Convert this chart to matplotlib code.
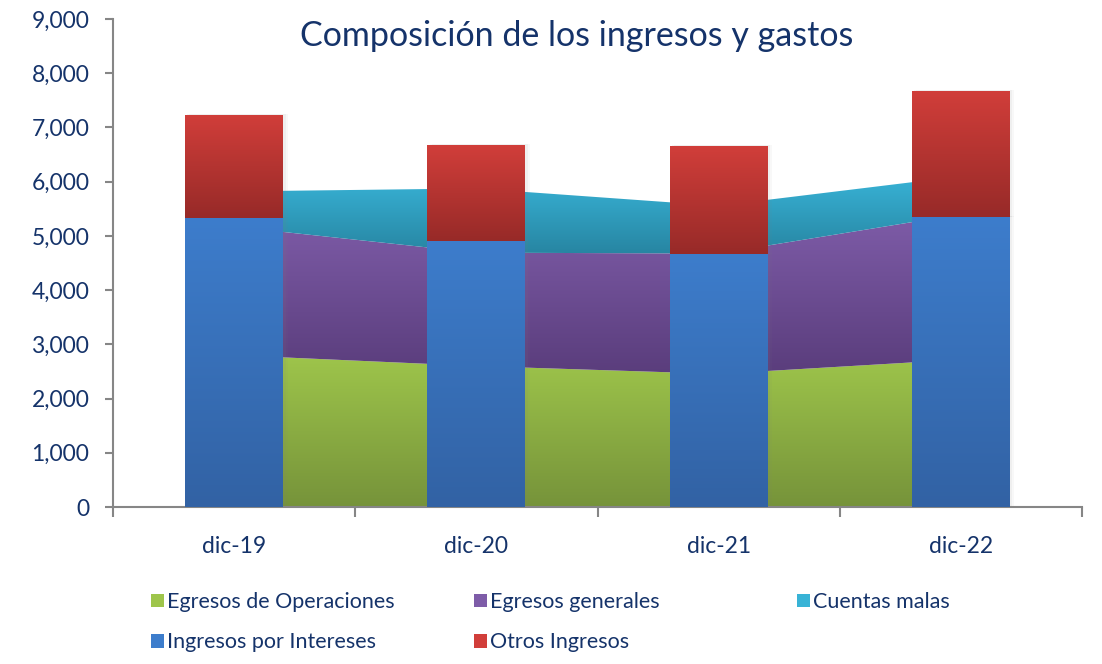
import numpy as np
import matplotlib.pyplot as plt
from matplotlib.colors import LinearSegmentedColormap
from matplotlib.patches import Patch
from matplotlib.ticker import FuncFormatter, FixedLocator

plt.rcParams['font.family'] = ['Lato', 'DejaVu Sans']

categorias = ['dic-19', 'dic-20', 'dic-21', 'dic-22']
egresos_operaciones = [2800, 2600, 2455, 2720]
egresos_generales = [2370, 2090, 2220, 2680]
cuentas_malas = [650, 1185, 880, 700]
ingresos_intereses = [5330, 4910, 4670, 5350]
otros_ingresos = [1900, 1770, 1990, 2325]

navy = '#15336A'
colores = {
    'verde': ('#9EC54B', '#76933A'),
    'morado': ('#7E5CA8', '#5A3D7C'),
    'cian': ('#38B3D6', '#2785A2'),
    'azul': ('#3D7DCC', '#3262A4'),
    'rojo': ('#D13E3A', '#972A28'),
}


def gradiente(ax, path, top, bottom, z):
    v = path.vertices
    x0, x1 = v[:, 0].min(), v[:, 0].max()
    y0, y1 = v[:, 1].min(), v[:, 1].max()
    cmap = LinearSegmentedColormap.from_list('g', [bottom, top])
    img = ax.imshow(np.linspace(0, 1, 256).reshape(-1, 1), cmap=cmap,
                    extent=(x0, x1, y0, y1), origin='lower', aspect='auto',
                    interpolation='bicubic', zorder=z)
    img.set_clip_path(path, transform=ax.transData)


fig = plt.figure(figsize=(11.02, 6.64), dpi=100)
ax = fig.add_axes([113 / 1102, 1 - 507 / 664, (1082 - 113) / 1102, (507 - 19) / 664])
x = np.arange(len(categorias))

# areas apiladas (egresos)
base = np.zeros(len(x))
for serie, clave in [(egresos_operaciones, 'verde'), (egresos_generales, 'morado'),
                     (cuentas_malas, 'cian')]:
    top = base + np.array(serie)
    poly = ax.fill_between(x, base, top, facecolor='none', edgecolor='none', zorder=1)
    gradiente(ax, poly.get_paths()[0], colores[clave][0], colores[clave][1], 1)
    base = top

# columnas apiladas (ingresos)
ancho = 0.405
barras1 = ax.bar(x, ingresos_intereses, width=ancho, color='none', zorder=3)
barras2 = ax.bar(x, otros_ingresos, bottom=ingresos_intereses, width=ancho,
                 color='none', zorder=3)
for barras, clave in [(barras1, 'azul'), (barras2, 'rojo')]:
    for b in barras:
        path = b.get_path().transformed(b.get_patch_transform())
        gradiente(ax, path, colores[clave][0], colores[clave][1], 3)
        # sombra suave
        for k, a in [(0.010, 0.08), (0.018, 0.05)]:
            sx, sy = b.get_x(), b.get_y()
            ax.add_patch(plt.Rectangle((sx + k, sy), b.get_width(), b.get_height() + 15,
                                       facecolor='gray', alpha=a, edgecolor='none',
                                       zorder=2))

ax.set_xlim(-0.5, 3.5)
ax.set_ylim(0, 9000)

for s in ['top', 'right']:
    ax.spines[s].set_visible(False)
for s in ['left', 'bottom']:
    ax.spines[s].set_color('#868686')
    ax.spines[s].set_linewidth(1.5)

ax.yaxis.set_major_locator(FixedLocator(np.arange(0, 9001, 1000)))
ax.yaxis.set_major_formatter(FuncFormatter(lambda v, p: f'{v:,.0f}'))
ax.tick_params(axis='y', colors='#868686', labelcolor=navy, labelsize=16.5,
               length=6, width=1.5, pad=11)

ax.xaxis.set_major_locator(FixedLocator(np.arange(-0.5, 3.6, 1)))
ax.xaxis.set_major_formatter(FuncFormatter(lambda v, p: ''))
ax.xaxis.set_minor_locator(FixedLocator(x))
ax.set_xticklabels(categorias, minor=True)
ax.tick_params(axis='x', which='major', colors='#868686', length=7, width=1.5)
ax.tick_params(axis='x', which='minor', length=0, labelcolor=navy, labelsize=16.5, pad=21)

fig.text(577 / 1102, 1 - 36 / 664, 'Composición de los ingresos y gastos',
         ha='center', va='center', fontsize=24.5, color=navy)

# leyenda en tres columnas
def mid(c):
    return colores[c][0]

columnas = [
    (151, [('Egresos de Operaciones', 'verde'), ('Ingresos por Intereses', 'azul')]),
    (474, [('Egresos generales', 'morado'), ('Otros Ingresos', 'rojo')]),
    (797, [('Cuentas malas', 'cian')]),
]
for xpix, items in columnas:
    handles = [Patch(facecolor=mid(c), edgecolor='none', label=t) for t, c in items]
    fig.legend(handles=handles, loc='upper left',
               bbox_to_anchor=(xpix / 1102, 1 - 592 / 664), frameon=False,
               fontsize=15.5, labelcolor=navy, borderpad=0, borderaxespad=0,
               handlelength=0.6, handleheight=0.6, handletextpad=0.15,
               labelspacing=0.95)

fig.savefig('out.png', dpi=100)
